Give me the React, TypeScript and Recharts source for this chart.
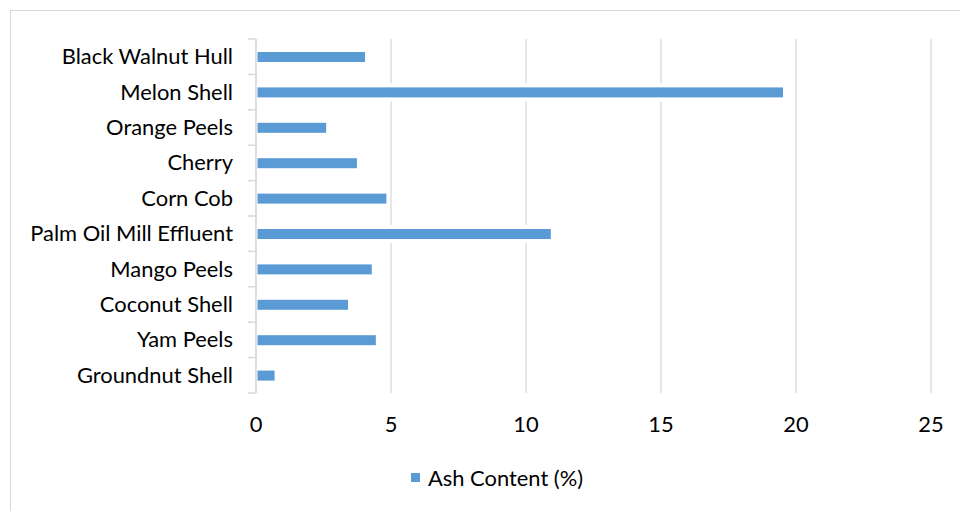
import React from "react";
import {
  BarChart,
  Bar,
  XAxis,
  YAxis,
  CartesianGrid,
  Legend,
} from "recharts";

// residue names, top to bottom
const residues = [
  "Black Walnut Hull",
  "Melon Shell",
  "Orange Peels",
  "Cherry",
  "Corn Cob",
  "Palm Oil Mill Effluent",
  "Mango Peels",
  "Coconut Shell",
  "Yam Peels",
  "Groundnut Shell",
];

// ash content, %
const ashContent = [4.02, 19.5, 2.58, 3.72, 4.81, 10.9, 4.27, 3.39, 4.42, 0.67];

const xTicks = [0, 5, 10, 15, 20, 25];

const seriesName = "Ash Content (%)";

const chartData = residues.map((name, i) => ({ name, ash: ashContent[i] }));

const FONT = "Lato, 'Open Sans', sans-serif";
const FONT_SIZE = 21.9;
const GRID = "#d9d9d9";
const BLUE = "#5b9bd5";

// category label plus the small boundary ticks Excel puts between bands
const CategoryTick = (props: any) => {
  const { x, y, payload, index, visibleTicksCount } = props;
  const half = payload?.offset ?? 17.7;
  const isLast = index === visibleTicksCount - 1;
  return (
    <g>
      <line x1={x - 8} x2={x} y1={y - half} y2={y - half} stroke={GRID} strokeWidth={1.5} />
      {isLast && (
        <line x1={x - 8} x2={x} y1={y + half} y2={y + half} stroke={GRID} strokeWidth={1.5} />
      )}
      <text
        x={x - 23}
        y={y}
        dy="0.34em"
        textAnchor="end"
        fill="#000"
        fontSize={FONT_SIZE}
        fontFamily={FONT}
      >
        {payload.value}
      </text>
    </g>
  );
};

// bar with a thin white halo that breaks the gridlines behind it
const HaloBar = (props: any) => {
  const { x, y, width, height, fill } = props;
  if (!width || width <= 0) return null;
  return (
    <g>
      <rect x={x} y={y - 4} width={width + 1} height={height + 8} fill="#fff" />
      <rect x={x + 1.5} y={y} width={Math.max(width - 1, 0)} height={height} fill={fill} />
    </g>
  );
};

const LegendContent = () => (
  <div
    style={{
      height: 30,
      display: "flex",
      alignItems: "center",
      paddingLeft: 411,
      fontFamily: FONT,
      fontSize: FONT_SIZE,
      color: "#000",
    }}
  >
    <span style={{ width: 9, height: 9, background: BLUE, display: "inline-block", marginRight: 8 }} />
    <span>{seriesName}</span>
  </div>
);

export default function App() {
  return (
    <div
      style={{
        position: "absolute",
        left: 0,
        top: 0,
        width: 960,
        height: 511,
        overflow: "hidden",
        background: "#fff",
      }}
    >
      <div
        style={{
          position: "absolute",
          left: 10,
          top: 10,
          width: 1000,
          height: 600,
          border: `1px solid ${GRID}`,
          boxSizing: "border-box",
        }}
      />
      <div style={{ position: "absolute", left: 0, top: 0 }}>
        <BarChart
          width={960}
          height={511}
          data={chartData}
          layout="vertical"
          margin={{ top: 39, right: 29, bottom: 19, left: 0 }}
          barSize={10}
        >
          <CartesianGrid horizontal={false} stroke={GRID} strokeWidth={1.3} />
          <XAxis
            type="number"
            domain={[0, 25]}
            ticks={xTicks}
            interval={0}
            height={69}
            axisLine={false}
            tickLine={false}
            tickSize={0}
            tickMargin={23}
            tick={{ fill: "#000", fontSize: FONT_SIZE, fontFamily: FONT }}
          />
          <YAxis
            type="category"
            dataKey="name"
            width={256}
            interval={0}
            axisLine={{ stroke: GRID, strokeWidth: 1.5 }}
            tickLine={false}
            tickSize={0}
            tickMargin={0}
            tick={<CategoryTick />}
          />
          <Legend verticalAlign="bottom" height={30} content={<LegendContent />} />
          <Bar
            dataKey="ash"
            name={seriesName}
            fill={BLUE}
            shape={<HaloBar />}
            isAnimationActive={false}
          />
        </BarChart>
      </div>
    </div>
  );
}
